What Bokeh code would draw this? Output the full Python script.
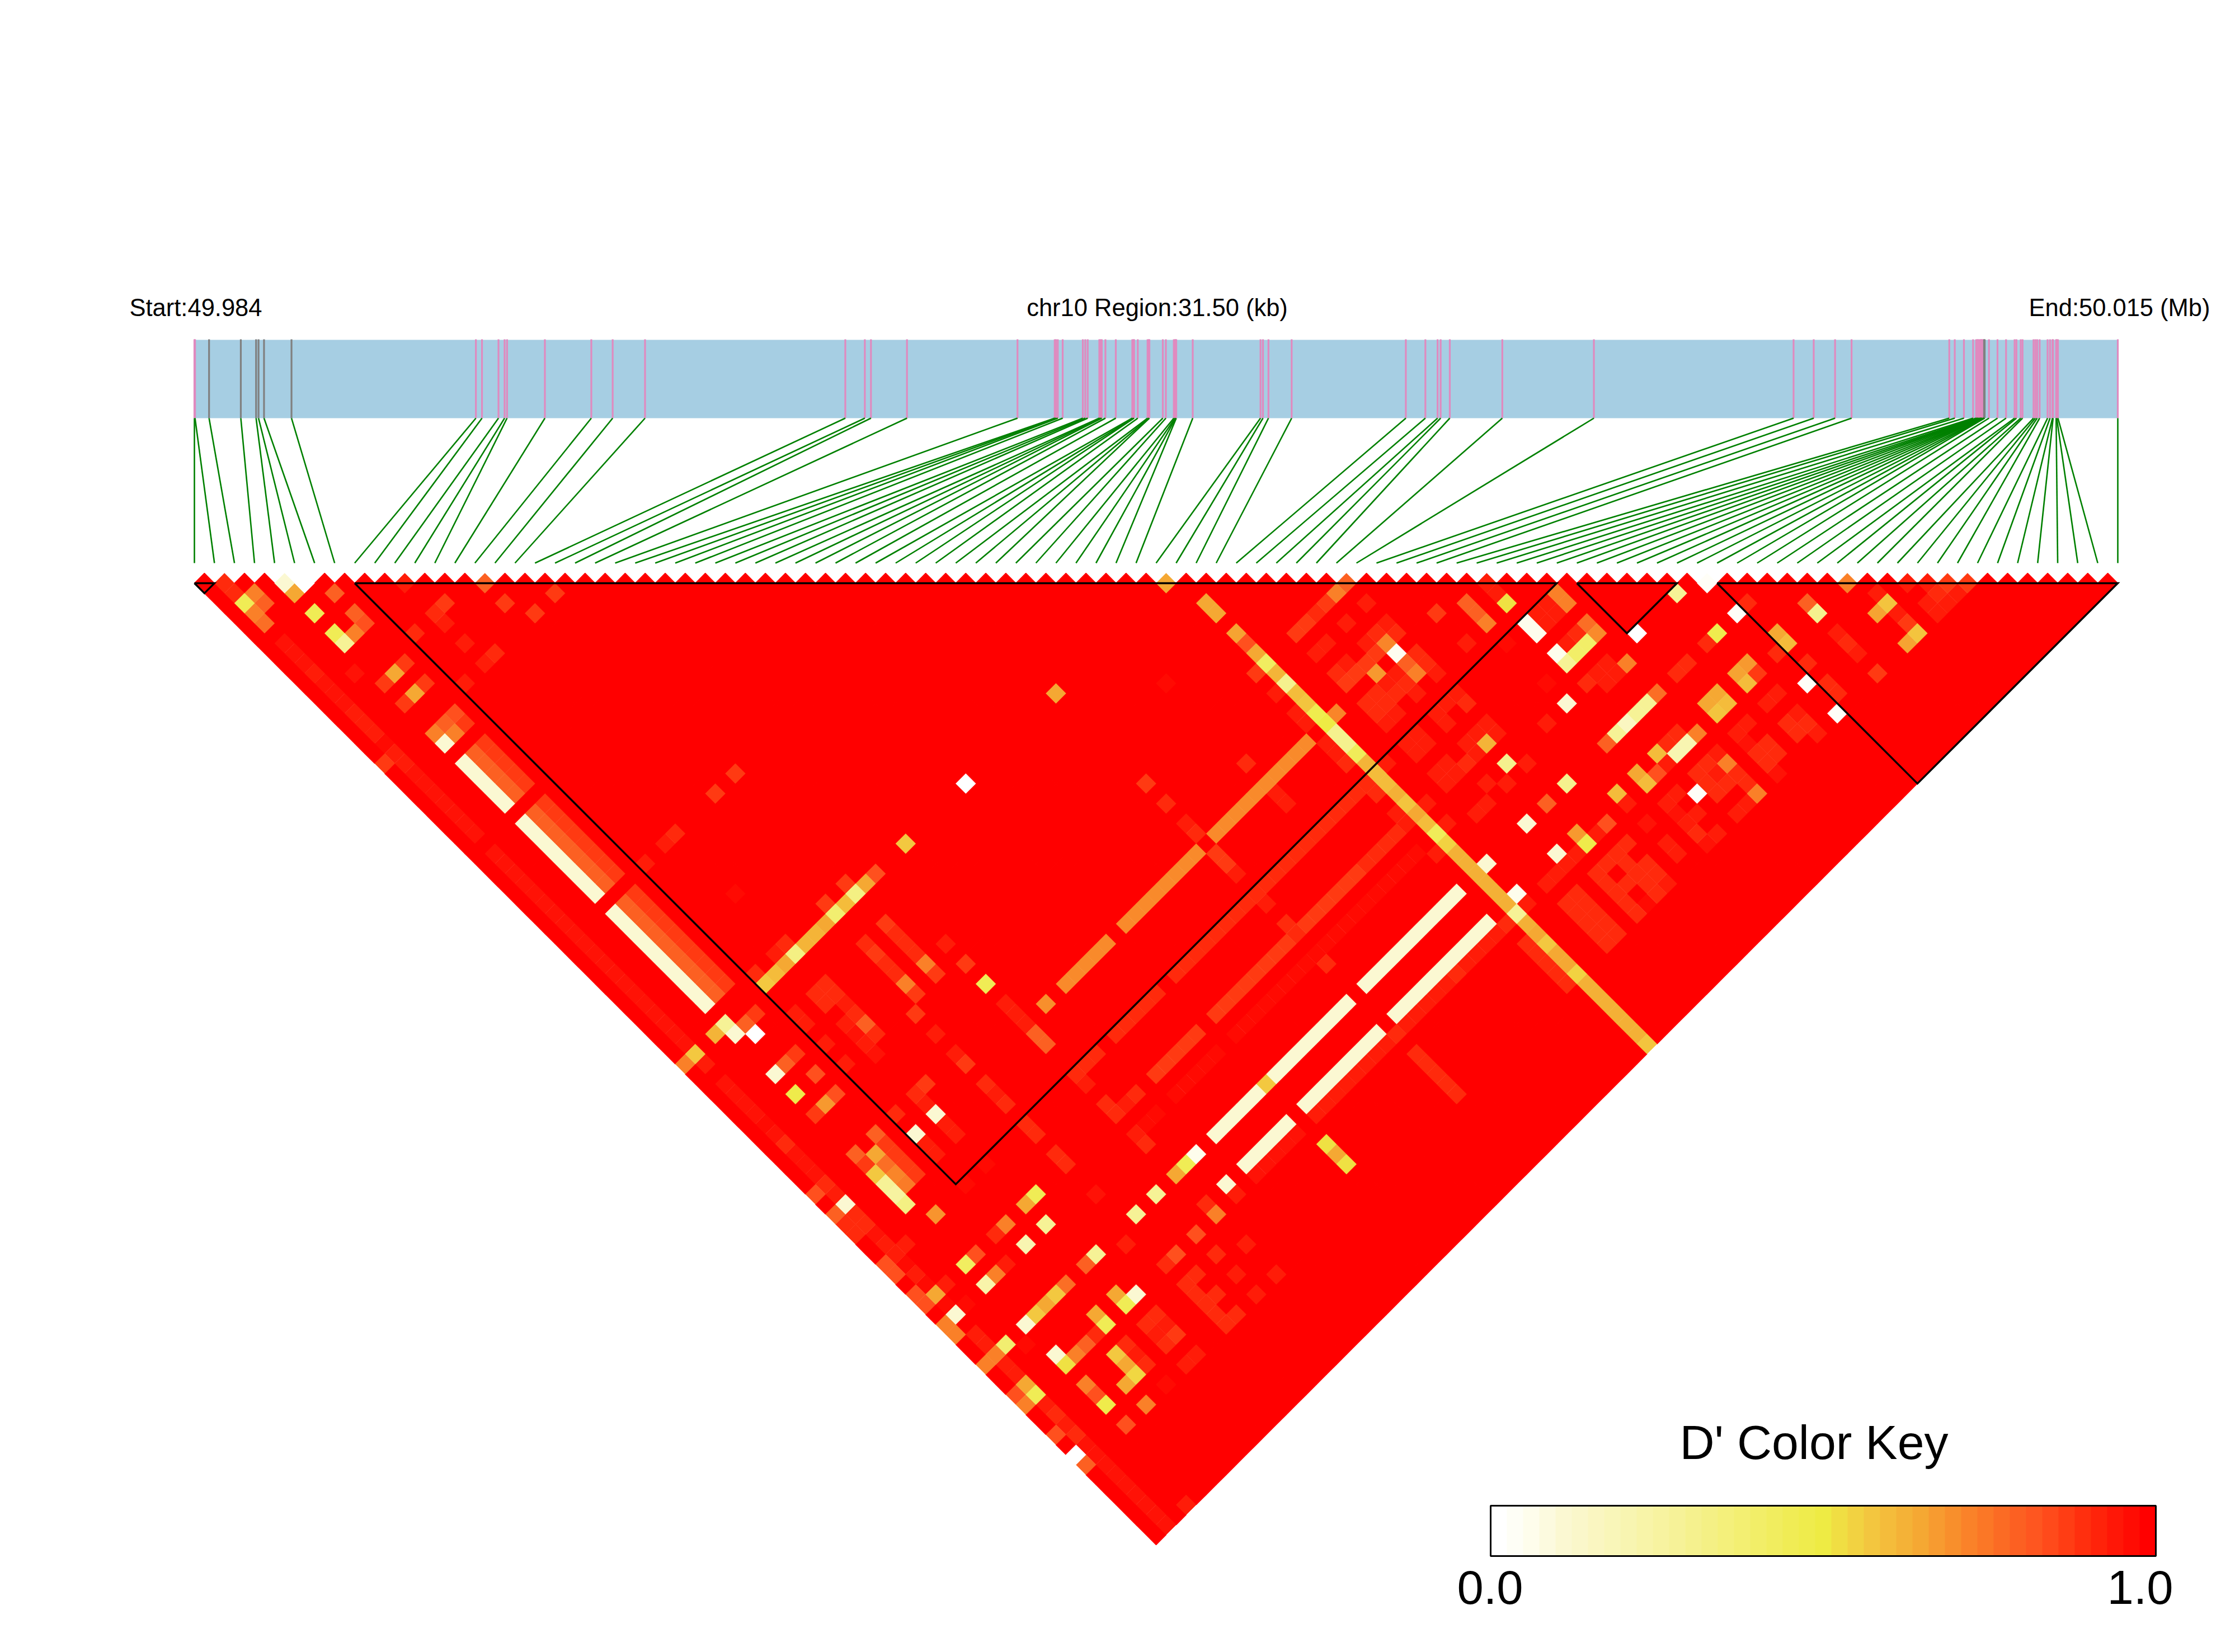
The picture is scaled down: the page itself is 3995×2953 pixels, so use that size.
from bokeh.plotting import figure
from bokeh.models import Range1d, ColumnDataSource
from bokeh.core.properties import value
from bokeh.embed import file_html
from bokeh.resources import INLINE

# ---------- data ----------
REGION_KB = 31.50
START_LABEL = "Start:49.984"
END_LABEL = "End:50.015 (Mb)"
REGION_LABEL = "chr10 Region:31.50 (kb)"
KEY_TITLE = "D' Color Key"
KEY_MIN_LABEL = "0.0"
KEY_MAX_LABEL = "1.0"

# SNP positions inside the region (kb from the start)
snp_kb = [0.00, 0.01, 0.24, 0.76, 1.01, 1.05, 1.14, 1.59, 4.61, 4.71, 4.98, 5.08, 5.12, 5.74, 6.50, 6.85,
          7.38, 10.66, 10.98, 11.08, 11.67, 13.48, 14.09, 14.11, 14.14, 14.22, 14.55, 14.59, 14.63, 14.82,
          14.84, 14.86, 14.92, 15.09, 15.36, 15.38, 15.39, 15.45, 15.61, 15.63, 15.64, 15.86, 15.91, 16.04,
          16.06, 16.07, 16.08, 16.35, 17.46, 17.50, 17.59, 17.97, 19.84, 20.16, 20.36, 20.41, 20.56, 21.42,
          22.92, 26.19, 26.52, 26.87, 27.14, 28.74, 28.83, 28.98, 29.13, 29.18, 29.20, 29.21, 29.23, 29.25,
          29.26, 29.27, 29.28, 29.30, 29.31, 29.32, 29.39, 29.53, 29.67, 29.81, 29.84, 29.91, 29.94, 30.12,
          30.15, 30.18, 30.22, 30.35, 30.39, 30.43, 30.44, 30.49, 30.50, 30.52, 31.50]
grey_snps = [2, 3, 4, 5, 6, 7, 76, 77]

# LD blocks as (first SNP, last SNP)
ld_blocks = [(0, 1), (8, 68), (69, 74), (76, 96)]

# named D' levels
W, C, P, Y, G, A, O, R1, R15, R2, R25, R3, R35, R4 = (0.0, 0.1, 0.28, 0.45, 0.57, 0.65, 0.73, 0.8, 0.84,
                                                      0.88, 0.91, 0.94, 0.96, 0.98)
DEFAULT_D = 1.0

# D' values different from 1.0: (i, j, D'), i or j may be an inclusive (first, last) range of SNPs
low_d_cells = [
    (1,2,R25),(4,5,C),(5,6,W),(10,11,R3),(14,15,R1),(1,3,R25),(2,4,O),(4,6,A),(6,8,R1),(17,19,R2),
    (1,4,Y),(2,5,R1),(11,14,R2),(14,17,R2),(1,5,O),(4,8,Y),(6,10,R1),(10,14,R25),(15,19,R2),
    (1,6,.77),(6,11,R15),(10,15,R3),(4,10,Y),(5,11,O),(8,14,R25),(4,11,P),(10,17,R3),
    (1,(8,10),R35),(1,11,R3),(1,(12,14),R35),(1,(15,17),R3),(1,18,R4),(1,(19,20),R3),(1,(21,27),R35),(1,(29,48),R35),
    (11,19,R25),(6,15,R2),(10,19,R3),(5,15,A),(3,13,R35),(4,15,R2),(6,17,R2),(8,19,R3),(5,17,A),(4,17,R2),
    (6,20,R15),(5,20,R1),(6,21,R2),(4,20,O),(5,21,O),(4,21,C),
    (6,(23,27),R2),(5,(23,27),R1),(4,(23,27),C),(6,(29,36),R2),(5,(29,36),R1),(4,(29,36),C),
    (6,(38,47),R2),(5,(38,47),R1),(4,(38,47),C),(0,19,R2),
    (48,49,A),(37,49,A),(43,54,R4),(28,49,W),(37,58,R2),(37,60,R25),(17,37,R2),(15,37,R2),(11,37,R25),(10,37,R3),
    (8,37,R3),(22,49,G),(11,43,R4),
    (19,49,R15),(18,49,A),(17,49,.33),(16,49,.6),(15,49,.38),(14,49,A),((12,13),49,.62),(11,49,.33),(10,49,A),(9,49,.6),(8,49,G),
    (17,48,R2),(15,48,R2),(11,48,R25),(10,48,R3),(8,48,R25),
    (17,52,R2),(17,53,R25),(17,54,R25),(17,55,R25),(17,56,O),(17,57,R2),
    (15,52,R25),(15,53,R2),(15,54,R25),(15,55,R25),(15,56,O),(15,57,R2),
    (19,56,R3),(19,58,R2),(19,60,Y),(21,64,.7),((23,27),64,.71),((29,36),64,.71),((38,47),64,.71),
    (6,50,R2),(5,50,R1),(4,49,P),(3,49,.62),(4,50,C),(5,51,W),(1,49,G),(0,49,O),(1,50,R3),
    (8,(52,53),R3),(8,55,R3),(8,57,R3),(6,54,R2),(5,54,R1),(4,54,C),
    (11,52,R25),(10,52,R25),(10,53,R25),(11,53,R25),(11,54,R3),(11,55,R25),(11,56,R1),(11,57,R25),
    (10,55,R3),(10,56,R35),(10,57,R3),(10,58,R35),
    (14,58,R2),(14,60,R3),(14,62,R3),(14,63,R2),(19,(62,64),R3),(19,65,R1),(19,66,R1),
    ((29,48),69,R25),(37,70,R3),((23,27),69,R25),((19,21),69,R25),(19,70,R3),(14,69,R25),(14,70,R25),(14,72,R25),(14,73,R25),(48,70,R25),
    ((44,47),73,R25),(43,73,R2),((38,42),73,R2),(37,73,R25),(37,72,R25),((29,36),73,R2),((23,27),73,R2),(21,73,R25),(20,73,R3),(19,73,R25),(19,72,R25),
    ((37,47),75,R4),((29,36),75,R4),((23,27),75,R4),(37,76,R25),(21,75,R4),(20,75,R4),(19,75,R3),(19,76,R25),
    ((38,47),79,C),((29,36),79,C),(28,79,G),((23,27),79,C),(21,79,.05),(20,79,Y),(19,79,A),(17,79,P),(15,79,P),
    ((38,47),82,C),((29,36),82,C),((23,27),82,C),(21,82,C),
    (48,83,R25),((44,47),83,R3),(43,83,R25),((38,42),83,R3),(37,83,R25),((29,36),83,R3),((23,27),83,R35),
    (50,79,C),(50,82,.05),(50,83,R3),(48,(85,89),R25),(37,(85,89),R25),(28,85,.52),(28,86,A),(28,87,.52),
    (19,82,R25),(19,83,O),(21,83,R3),(17,83,R15),(15,83,R15),(14,83,R25),(17,85,R25),(19,86,R3),(13,80,R3),(17,87,R3),(19,89,R3),(17,89,R3),
    (14,(85,89),R25),(15,85,R25),(15,87,R25),(15,89,R25),
    (11,85,R25),(10,85,R25),(10,86,R3),(11,86,R3),(11,87,R2),(10,87,R25),(11,89,R3),(10,89,R3),(8,89,R4),
    (7,85,G),(8,85,R25),(7,86,A),(8,86,R3),(7,87,.54),(8,87,R25),(6,87,A),
    (4,82,C),(4,83,.52),(5,83,O),(6,83,R1),(7,83,R25),(8,83,Y),(8,82,A),
    (4,79,C),(5,79,G),(6,79,A),(7,79,G),(8,79,.77),(10,82,A),(11,83,C),(10,83,Y),(11,79,P),(10,79,R1),
    (11,73,Y),(10,73,A),(14,76,R35),(10,75,P),(8,75,.2),(8,73,O),(7,73,R25),(5,73,R15),(4,73,.42),(6,75,R3),(5,75,O),(4,75,.22),(2,79,.38),
    (1,(52,55),R35),(1,56,R4),(1,57,R35),(1,58,R25),(1,(59,61),R35),(1,62,R25),(1,63,R3),(1,64,C),(0,62,R15),(0,64,R1),
    (1,65,R25),(0,65,R25),(0,66,R25),(1,66,R25),(1,67,R35),(1,68,R3),(1,69,R3),(1,70,R4),(0,69,R15),(0,70,R15),(1,71,R3),(2,69,R3),
    (1,72,R4),(1,73,A),(2,73,R3),(1,74,R4),(0,72,R15),(0,73,R15),(1,75,C),(2,75,R4),(0,75,O),(0,76,O),(1,77,R3),(1,78,R3),(3,80,R4),
    (1,79,O),(0,79,O),(1,80,R3),(1,81,R3),(1,82,A),(1,83,Y),(0,82,R15),(0,83,O),(1,84,R3),(1,85,R25),(1,86,R3),(1,87,R25),(0,86,R15),
    (0,88,W),(1,(88,96),R35),(0,89,R1),(3,96,R3),
    (6,56,R15),(4,56,.48),(6,58,R15),(5,58,.68),(4,58,R2),
    (6,62,R1),(6,(63,66),R2),(4,62,R1),(4,63,R2),(5,63,A),(5,64,.77),(5,65,.72),(5,66,.74),(4,64,G),(4,65,P),(4,66,.25),(4,67,.33),(5,69,.69),
    (8,62,R25),(8,64,C),(10,64,C),(11,62,R2),(10,62,R25),(10,63,R3),(10,65,R3),(10,66,R3),(8,65,R3),(8,66,R3),(8,69,R4),(10,69,R4),
    (14,65,R25),(14,66,R3),(14,67,R25),(6,89,O),(4,89,R15),(4,85,O),(4,86,R15),(4,87,.48),
    (57,58,R1),(56,58,O),(64,65,R3),(64,66,R3),(64,67,.52),(55,58,R2),(54,58,R25),((52,53),58,R2),(57,60,R3),(60,64,R2),(55,60,R3),
    (62,65,R1),(62,66,R1),(62,67,O),
    (49,52,.65),(49,53,.65),(49,55,.66),(49,56,R15),(49,57,.65),(49,58,.42),(49,59,.62),(49,60,.3),(49,61,.6),(49,62,.58),(49,63,.47),
    (49,64,.5),(49,65,.3),(49,66,.3),(49,67,.44),(49,68,.62),(49,69,.6),(49,70,.6),(49,71,.63),(49,72,.58),(49,73,.65),(49,74,.6),(49,75,.44),
    (49,76,.55),(49,(77,82),.63),(49,83,.28),(49,84,.63),(49,85,.65),(49,86,.57),(49,(87,88),.65),(49,89,.55),(49,(90,95),.63),(49,96,.58),
    (48,58,R2),(48,60,R3),(48,62,R3),(48,63,R3),(50,64,.72),(48,(65,66),R3),(48,67,R25),(50,69,R3),(43,62,R25),(37,62,R3),(37,63,R25),
    (37,(65,66),R2),(37,67,R3),(43,(65,66),R3),(50,73,R3),(50,75,R3),(48,76,R3),(48,72,R3),(48,73,R3),
    (53,60,R3),(52,60,R3),(57,62,R3),(56,62,R25),(57,63,R25),(55,62,R3),(56,63,.72),(56,64,.04),(55,63,R2),(54,63,R2),(53,62,R3),(52,62,R25),
    (53,63,R2),(52,63,R2),(54,64,.68),(57,65,R25),(56,65,R1),(56,66,O),(57,66,R25),(57,67,R3),(55,65,R3),(54,65,R3),(55,66,R25),(54,66,R25),
    (55,67,R3),(53,65,R25),(52,65,R25),(53,66,R25),(52,66,R25),(53,67,R3),(52,67,R3),(60,67,R3),(62,69,R4),(57,69,R3),(57,70,R25),
    (55,69,R3),(55,70,R3),(56,69,R3),(53,69,R3),(52,69,R3),(53,70,R3),(52,70,R3),(57,72,R3),(57,73,R3),(56,72,R3),(56,73,.62),(55,72,R3),
    (55,73,R3),(54,73,R25),(53,72,R3),(52,72,R3),(53,73,R3),(52,73,R3),(54,75,R3),(55,76,R3),(57,76,R3),(56,75,.3),(53,76,R3),(52,76,R3),
    (60,75,R3),(62,73,R4),(62,75,C),(58,79,.3),(56,79,R1),(54,79,C),(56,82,.68),(56,83,.48),(54,82,C),(57,83,R3),(58,83,R15),(55,83,R3),
    (54,83,R3),(53,83,R3),(52,83,R3),((52,53),(85,89),R25),
    (55,(85,89),R25),(56,85,R25),(57,(85,89),R25),(58,85,R25),(56,87,R25),(58,87,R25),(58,88,R25),(56,89,R4),(58,89,R3),
    (69,75,W),(67,69,O),(67,70,O),(66,69,R3),(65,69,R3),(66,70,R3),(65,70,R3),(64,69,.05),(64,70,.05),(64,72,.05),(64,73,P),(65,73,.4),(66,73,.4),
    (67,72,.77),(67,73,.71),(66,72,R25),(65,72,R3),(67,76,O),(66,75,R3),(65,75,R3),(66,76,R3),(65,76,R3),(64,75,R25),
    (62,79,R1),(63,79,P),(64,79,.15),(65,79,P),(66,79,P),(67,79,.77),(70,79,R25),(69,79,R25),(73,75,P),(73,79,.47),(72,79,R25),(75,79,.02),
    (76,79,R25),(75,76,.02),(73,82,.68),(72,82,.66),(72,83,.6),(73,83,R2),(76,82,A),(76,83,.6),(75,83,R25),(76,85,R25),(75,86,.02),(75,89,.02),
    (76,87,R25),(76,88,R25),(79,82,R1),(79,83,.3),(82,83,O),(85,86,R3),(86,87,R3),(87,88,R2),(88,89,R2),(83,85,R3),(83,86,.58),(82,86,.66),
    (83,87,R3),(83,88,R2),(83,89,.58),(82,89,.66),(79,89,R2),(79,85,R3),(79,86,R25),(79,87,R3),(86,88,R25),(87,89,R3),(85,88,R3),(86,89,R3),(85,89,R3),
    (73,85,R3),(72,85,R3),(73,87,R3),(72,87,R25),(73,88,R25),(72,88,R25),(73,89,R3),(70,85,R3),(69,85,R3),(69,86,R35),(70,87,R25),(69,87,R25),
    (70,88,R25),(69,88,R25),(69,89,R35),(67,85,R3),(66,85,R25),(65,85,R25),(67,86,O),(66,86,R3),(65,86,R25),(67,87,R25),(66,87,R25),(65,87,R25),
    (67,88,R25),(67,89,O),(66,89,R3),(65,89,R3),(64,86,.02),
    (70,82,A),(69,82,A),(70,83,.6),(69,83,.58),(67,83,O),(66,83,.2),(65,83,.2),(66,82,R25),(65,82,R25),(64,82,.6),(64,83,R3),(62,82,A),(62,83,.6),
    (63,83,R15),(63,85,R3),(62,85,R3),(62,86,R35),(63,87,R3),(62,87,R3),(62,88,R25),(62,89,R35),(63,89,R3),(60,85,R35),(60,87,R3),(60,88,R3),
    (60,83,R3),(60,82,.6),
]

# colour key: D' level of each step
key_levels = [0.0, 0.025, 0.05, 0.075, 0.1, 0.125, 0.15, 0.175, 0.2, 0.225, 0.25, 0.275, 0.3, 0.325, 0.35,
              0.375, 0.4, 0.425, 0.45, 0.475, 0.5, 0.525, 0.55, 0.575, 0.6, 0.625, 0.65, 0.675, 0.7, 0.725,
              0.75, 0.775, 0.8, 0.825, 0.85, 0.875, 0.9, 0.925, 0.95, 0.975, 1.0]

# colour ramp read from the key
ramp_levels = [0.0, 0.05, 0.1, 0.28, 0.45, 0.5, 0.57, 0.65, 0.73, 0.8, 0.84, 0.88, 0.91, 0.94, 0.96, 0.98, 1.0]
ramp_colours = [(255,255,255),(254,253,236),(251,248,210),(246,242,150),(240,236,85),(238,235,68),(243,200,64),
                (245,168,51),(250,128,40),(252,96,34),(255,80,30),(255,58,18),(255,42,12),(255,28,8),(255,18,6),(255,10,2),(255,0,0)]


def colour(v):
    for k in range(len(ramp_levels) - 1):
        if v <= ramp_levels[k + 1]:
            lo, hi = ramp_levels[k], ramp_levels[k + 1]
            f = (v - lo) / (hi - lo)
            a, b = ramp_colours[k], ramp_colours[k + 1]
            return "#%02x%02x%02x" % tuple(round(a[n] + (b[n] - a[n]) * f) for n in range(3))
    return "#ff0000"


# ---------- layout (pixels of the picture) ----------
FIG_W, FIG_H = 3979, 2937
X0, X1 = 347.0, 3785.0
N = len(snp_kb)
PITCH = (X1 - X0) / (N - 1)
Y0 = 1042.0
BAND_TOP, BAND_BOTTOM = 607.0, 747.0
LINK_BOTTOM = 1006.0
KEY_L, KEY_R, KEY_T, KEY_B = 2664.0, 3853.0, 2691.0, 2781.0


def kb_x(kb):
    return X0 + kb / REGION_KB * (X1 - X0)


def tri_xy(a, b):
    return X0 + a * PITCH / 2, Y0 + (b - 1) * PITCH / 2


d = {}
for i_, j_, v_ in low_d_cells:
    i_rng = range(i_[0], i_[1] + 1) if isinstance(i_, tuple) else [i_]
    j_rng = range(j_[0], j_[1] + 1) if isinstance(j_, tuple) else [j_]
    for ii in i_rng:
        for jj in j_rng:
            d[(ii, jj)] = v_

cells = [(d.get((i, j), DEFAULT_D), i, j) for i in range(N) for j in range(i + 1, N)]
cells.sort(key=lambda c: -c[0])
xs, ys, cols, widths = [], [], [], []
for v, i, j in cells:
    cx, cy = tri_xy(i + j, j - i)
    h = PITCH / 2
    xs.append([cx - h, cx, cx + h, cx])
    ys.append([cy, cy - h, cy, cy + h])
    cols.append(colour(v))
    widths.append(1.4 if v >= DEFAULT_D else 0.5)
cell_source = ColumnDataSource(dict(xs=xs, ys=ys, col=cols, w=widths))

p = figure(width=FIG_W, height=FIG_H,
           x_range=Range1d(0, FIG_W), y_range=Range1d(FIG_H, 0),
           output_backend="svg", toolbar_location=None, min_border=0, outline_line_color=None,
           background_fill_color="white", border_fill_color="white")
p.axis.visible = False
p.grid.visible = False

# gene band
p.quad(left=[X0], right=[X1], top=[BAND_TOP], bottom=[BAND_BOTTOM], fill_color="#a6cee3", line_color=None)
tick_x = [kb_x(k) for k in snp_kb]
pink = [t for n, t in enumerate(tick_x) if n not in grey_snps]
grey = [t for n, t in enumerate(tick_x) if n in grey_snps]
for group, c in ((pink, "#e08abf"), (grey, "#808080")):
    p.segment(x0=group, x1=group, y0=[BAND_TOP - 1] * len(group), y1=[BAND_BOTTOM] * len(group),
              line_color=c, line_width=3.2)

# links from the band to the SNP slots
p.segment(x0=tick_x, y0=[BAND_BOTTOM] * N, x1=[X0 + n * PITCH for n in range(N)], y1=[LINK_BOTTOM] * N,
          line_color="#008000", line_width=2.6)

# D' heat map
p.patches(xs="xs", ys="ys", fill_color="col", line_color="col", line_width="w", source=cell_source)

# LD block outlines
for first, last in ld_blocks:
    ax = [2 * first, first + last, 2 * last, 2 * first]
    bx = [1, last - first + 1, 1, 1]
    pts = [tri_xy(a, b) for a, b in zip(ax, bx)]
    p.line([q[0] for q in pts], [q[1] for q in pts], line_color="black", line_width=3.4, line_join="miter")

# colour key
n_key = len(key_levels)
w = (KEY_R - KEY_L) / n_key
p.quad(left=[KEY_L + n * w for n in range(n_key)], right=[KEY_L + (n + 1) * w + 0.5 for n in range(n_key)],
       top=[KEY_T] * n_key, bottom=[KEY_B] * n_key, fill_color=[colour(v) for v in key_levels], line_color=None)
p.quad(left=[KEY_L], right=[KEY_R], top=[KEY_T], bottom=[KEY_B], fill_color=None, line_color="black", line_width=3)

font = value("Liberation Sans")
def label(x, y, s, size, align):
    p.text(x=[x], y=[y], text=[s], text_font=font, text_font_size=size, text_color="black",
           text_align=align, text_baseline="alphabetic")

label(231, 549, START_LABEL, "43.5px", "left")
label(2068, 549, REGION_LABEL, "43.5px", "center")
label(3950, 549, END_LABEL, "43.5px", "right")
label(3242, 2577, KEY_TITLE, "86px", "center")
label(2663, 2837, KEY_MIN_LABEL, "85px", "center")
label(3825, 2837, KEY_MAX_LABEL, "85px", "center")

open("out.html", "w").write(file_html(p, INLINE))
